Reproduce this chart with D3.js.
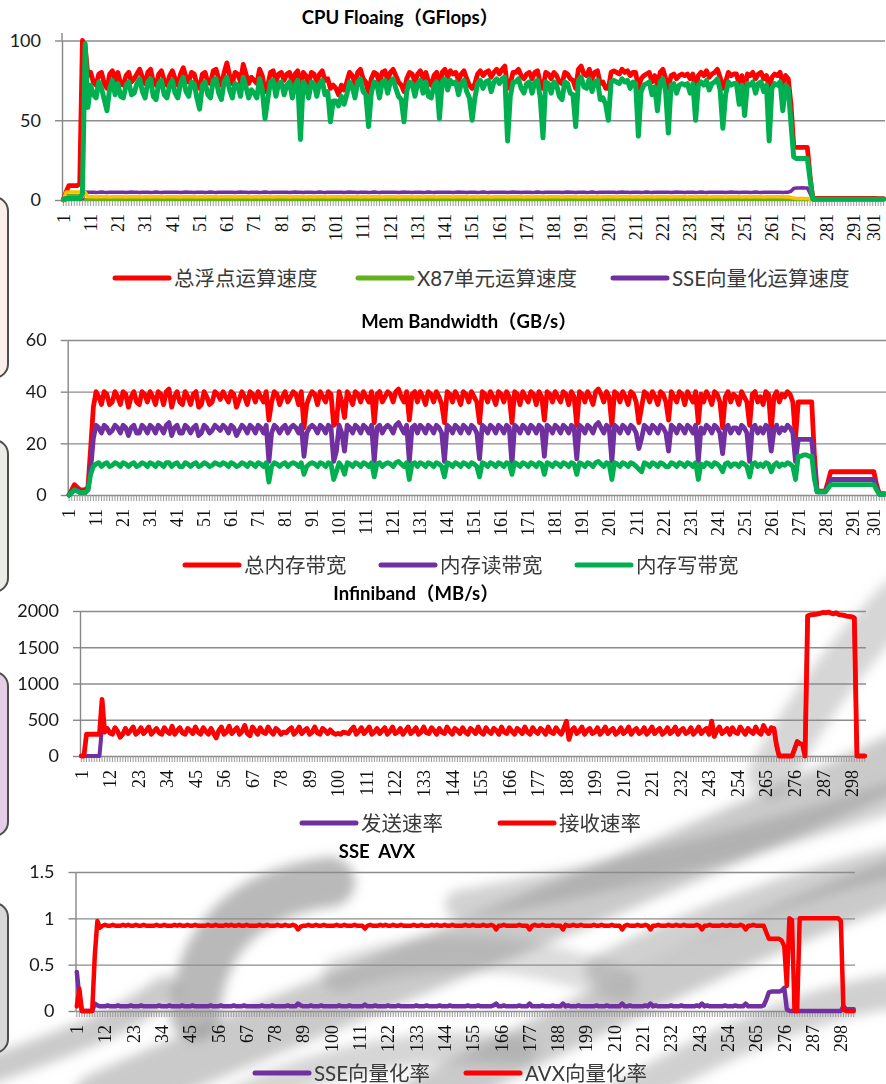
<!DOCTYPE html>
<html>
<head>
<meta charset="utf-8">
<script src="https://cdn.jsdelivr.net/npm/d3@7/dist/d3.min.js"></script>
<style>
  body { margin: 0; background: #fff; }
  svg { display: block; }
  .ylab text { font-family: Lato, "Noto Sans", sans-serif; font-size: 18px; fill: #1a1a1a; }
  .xlab text { font-family: "Liberation Serif", serif; font-size: 18px; fill: #111; }
  .title { font-family: Lato, "Noto Sans CJK SC", sans-serif; font-size: 18.5px; font-weight: bold; fill: #000; white-space: pre; }
  .legend { font-family: Lato, "Noto Sans CJK SC", sans-serif; font-size: 20.5px; fill: #3a3a3a; }
</style>
</head>
<body>
<div id="chart"></div>
<script>
// ---------- CPU Floaing (GFlops), 302 samples ----------
var cpuTotal = [0,5,9,9,9,9,10,100,96,78,
80,74,72,79,80,73,70,79,81,75,
80,73,72,78,80,74,76,79,82,77,
73,80,82,74,72,79,81,75,72,78,
81,76,72,79,83,77,74,80,79,73,
70,79,80,74,73,81,82,76,72,80,
86,78,73,80,79,74,85,79,73,77,
75,73,82,78,68,72,80,81,74,79,
80,75,79,80,73,79,81,70,80,78,
73,80,79,74,79,81,75,76,70,72,
70,66,72,69,74,80,78,73,80,82,
76,74,67,76,80,79,73,80,81,75,
80,82,78,74,72,68,76,80,79,74,
79,81,76,80,74,72,78,80,70,80,
82,77,81,79,80,75,79,81,76,72,
70,73,79,81,78,80,81,77,80,82,
79,82,84,70,73,80,80,82,78,76,
79,80,76,80,81,73,70,80,79,76,
80,78,74,73,80,79,76,75,70,82,
84,79,78,82,76,80,81,73,74,70,
70,80,81,80,79,82,80,81,78,80,
80,70,76,78,79,80,74,78,72,80,
82,76,70,78,79,76,78,79,78,79,
76,79,70,78,80,78,81,77,79,80,
82,77,70,74,80,78,79,79,72,78,
68,79,78,80,76,79,80,76,78,70,
77,79,78,80,73,78,76,60,34,33,
33,33,33,33,15,1,1,1,1,1,
1,1,1,1,1,1,1,1,1,1,
1,1,1,1,1,1,1,1,1,.8,
.8,.8];

var cpuAvx = [.5,1,1,1,1,1,1,4,98,58,
72,66,64,74,70,63,56,70,75,66,
73,65,64,72,74,66,67,73,76,68,
64,74,76,65,63,73,75,66,64,72,
75,67,64,73,77,68,65,74,73,64,
57,72,74,66,64,75,76,67,63,74,
77,69,64,73,72,65,77,71,64,69,
67,64,76,69,51,63,74,75,65,73,
74,66,72,74,64,72,75,38,74,71,
64,74,73,65,73,75,66,68,49,62,
62,59,65,60,66,74,71,64,74,76,
68,66,46,67,74,73,64,74,75,67,
74,76,70,65,63,49,68,74,73,65,
73,75,67,74,65,64,72,74,51,74,
76,69,75,73,74,66,73,75,68,64,
50,64,73,75,70,74,75,68,74,76,
73,76,77,37,65,74,74,76,70,67,
73,74,67,74,75,64,39,74,73,67,
74,72,65,63,74,73,67,66,46,75,
77,71,70,76,68,74,75,63,64,60,
50,74,75,74,73,76,74,75,70,74,
73,40,68,72,73,74,66,71,56,74,
76,68,42,72,73,67,72,73,72,73,
67,73,50,72,74,72,75,69,73,74,
76,69,45,66,74,72,73,73,60,72,
53,73,72,74,67,73,74,68,72,37,
70,73,72,74,56,72,70,48,27,26,
26,26,26,26,13,.5,.5,.5,.5,.5,
.5,.5,.5,.5,.5,.5,.5,.5,.5,.5,
.5,.5,.5,.5,.5,.5,.5,.5,.5,.5,
.5,.5];

var cpuSse = [0,.3,.5,.5,.5,.5,.5,1,5,4.8,
4.8,4.9,4.7,4.8,5,4.8,4.7,4.9,4.8,4.8,
4.9,4.8,4.8,4.7,4.9,5,4.8,4.8,4.7,4.9,
4.8,4.9,4.7,4.8,5,4.8,4.7,4.9,4.8,4.8,
4.9,4.8,4.8,4.7,4.9,5,4.8,4.8,4.7,4.9,
4.8,4.9,4.7,4.8,5,4.8,4.7,4.9,4.8,4.8,
4.9,4.8,4.8,4.7,4.9,5,4.8,4.8,4.7,4.9,
4.8,4.9,4.7,4.8,5,4.8,4.7,4.9,4.8,4.8,
4.9,4.8,4.8,4.7,4.9,5,4.8,4.8,4.7,4.9,
4.8,4.9,4.7,4.8,5,4.8,4.7,4.9,4.8,4.8,
4.9,4.8,4.8,4.7,4.9,5,4.8,4.8,4.7,4.9,
4.8,4.9,4.7,4.8,5,4.8,4.7,4.9,4.8,4.8,
4.9,4.8,4.8,4.7,4.9,5,4.8,4.8,4.7,4.9,
4.8,4.9,4.7,4.8,5,4.8,4.7,4.9,4.8,4.8,
4.9,4.8,4.8,4.7,4.9,5,4.8,4.8,4.7,4.9,
4.8,4.9,4.7,4.8,5,4.8,4.7,4.9,4.8,4.8,
4.9,4.8,4.8,4.7,4.9,5,4.8,4.8,4.7,4.9,
4.8,4.9,4.7,4.8,5,4.8,4.7,4.9,4.8,4.8,
4.9,4.8,4.8,4.7,4.9,5,4.8,4.8,4.7,4.9,
4.8,4.9,4.7,4.8,5,4.8,4.7,4.9,4.8,4.8,
4.9,4.8,4.8,4.7,4.9,5,4.8,4.8,4.7,4.9,
4.8,4.9,4.7,4.8,5,4.8,4.7,4.9,4.8,4.8,
4.9,4.8,4.8,4.7,4.9,5,4.8,4.8,4.7,4.9,
4.8,4.9,4.7,4.8,5,4.8,4.7,4.9,4.8,4.8,
4.9,4.8,4.8,4.7,4.9,5,4.8,4.8,4.7,4.9,
4.8,4.9,4.7,4.8,5,4.8,4.7,4.9,4.8,4.8,
4.8,4.9,4.8,4.8,4.7,4.8,4.9,5.5,7.2,7.6,
7.6,7.7,7.6,7.6,4,.3,.3,.3,.3,.3,
.3,.3,.3,.3,.3,.3,.3,.3,.3,.3,
.3,.3,.3,.3,.3,.3,.3,.3,.3,.3,
.3,.3];

var cpuOther = [0,5,5,5,5,5,5,2,5,2,
2,2.1,1.9,2,2,2.1,2,1.9,2,2,
2.1,2,2,1.9,2,2,2.1,2,2,1.9,
2,2.1,1.9,2,2,2.1,2,1.9,2,2,
2.1,2,2,1.9,2,2,2.1,2,2,1.9,
2,2.1,1.9,2,2,2.1,2,1.9,2,2,
2.1,2,2,1.9,2,2,2.1,2,2,1.9,
2,2.1,1.9,2,2,2.1,2,1.9,2,2,
2.1,2,2,1.9,2,2,2.1,2,2,1.9,
2,2.1,1.9,2,2,2.1,2,1.9,2,2,
2.1,2,2,1.9,2,2,2.1,2,2,1.9,
2,2.1,1.9,2,2,2.1,2,1.9,2,2,
2.1,2,2,1.9,2,2,2.1,2,2,1.9,
2,2.1,1.9,2,2,2.1,2,1.9,2,2,
2.1,2,2,1.9,2,2,2.1,2,2,1.9,
2,2.1,1.9,2,2,2.1,2,1.9,2,2,
2.1,2,2,1.9,2,2,2.1,2,2,1.9,
2,2.1,1.9,2,2,2.1,2,1.9,2,2,
2.1,2,2,1.9,2,2,2.1,2,2,1.9,
2,2.1,1.9,2,2,2.1,2,1.9,2,2,
2.1,2,2,1.9,2,2,2.1,2,2,1.9,
2,2.1,1.9,2,2,2.1,2,1.9,2,2,
2.1,2,2,1.9,2,2,2.1,2,2,1.9,
2,2.1,1.9,2,2,2.1,2,1.9,2,2,
2.1,2,2,1.9,2,2,2.1,2,2,1.9,
2,2.1,1.9,2,2,2.1,2,1.9,2,2,
2,2,2.1,2,2,1.9,2,1.6,1.2,1,
1,1,1,1,.5,.3,.3,.3,.3,.3,
.3,.3,.3,.3,.3,.3,.3,.3,.3,.3,
.3,.3,.3,.3,.3,.3,.3,.3,.3,.3,
.3,.3];

var cpuX87 = [0,2.5,3,3,3,3,2.5,1,.5,.3,
.3,.3,.4,.3,.3,.3,.4,.3,.3,.3,
.3,.4,.3,.3,.3,.4,.3,.3,.3,.4,
.3,.3,.4,.3,.3,.3,.4,.3,.3,.3,
.3,.4,.3,.3,.3,.4,.3,.3,.3,.4,
.3,.3,.4,.3,.3,.3,.4,.3,.3,.3,
.3,.4,.3,.3,.3,.4,.3,.3,.3,.4,
.3,.3,.4,.3,.3,.3,.4,.3,.3,.3,
.3,.4,.3,.3,.3,.4,.3,.3,.3,.4,
.3,.3,.4,.3,.3,.3,.4,.3,.3,.3,
.3,.4,.3,.3,.3,.4,.3,.3,.3,.4,
.3,.3,.4,.3,.3,.3,.4,.3,.3,.3,
.3,.4,.3,.3,.3,.4,.3,.3,.3,.4,
.3,.3,.4,.3,.3,.3,.4,.3,.3,.3,
.3,.4,.3,.3,.3,.4,.3,.3,.3,.4,
.3,.3,.4,.3,.3,.3,.4,.3,.3,.3,
.3,.4,.3,.3,.3,.4,.3,.3,.3,.4,
.3,.3,.4,.3,.3,.3,.4,.3,.3,.3,
.3,.4,.3,.3,.3,.4,.3,.3,.3,.4,
.3,.3,.4,.3,.3,.3,.4,.3,.3,.3,
.3,.4,.3,.3,.3,.4,.3,.3,.3,.4,
.3,.3,.4,.3,.3,.3,.4,.3,.3,.3,
.3,.4,.3,.3,.3,.4,.3,.3,.3,.4,
.3,.3,.4,.3,.3,.3,.4,.3,.3,.3,
.3,.4,.3,.3,.3,.4,.3,.3,.3,.4,
.3,.3,.4,.3,.3,.3,.4,.3,.3,.3,
.3,.4,.3,.3,.3,.4,.3,.3,.3,.4,
.3,.3,.3,.3,.3,.3,.3,.3,.3,.3,
.3,.3,.3,.3,.3,.3,.3,.3,.3,.3,
.3,.3,.3,.3,.3,.3,.3,.3,.3,.3,
.3,.3];

var cpuYTicks = [0, 50, 100];
var cpuXTicks = [1,11,21,31,41,51,61,71,81,91,101,111,121,131,141,151,161,171,181,191,201,211,221,231,241,251,261,271,281,291,301];

// ---------- Mem Bandwidth (GB/s), 303 samples ----------
var memTotal = [0,2,4,3,2,2,2,3,18,34,
40,38,35,40,39,35,36,40,38,35,
40,39,34,38,40,36,35,40,39,36,
40,38,35,40,39,35,40,41,34,38,
40,36,35,40,38,35,39,40,34,35,
40,38,35,36,40,39,37,40,38,36,
40,39,34,37,40,38,35,40,39,36,
40,38,36,40,29,36,40,39,35,38,
40,36,38,40,39,35,40,26,35,38,
40,39,35,40,38,36,40,39,27,28,
40,36,30,40,38,35,40,39,36,40,
38,36,40,28,39,40,36,38,40,39,
36,40,41,38,36,40,29,39,40,36,
40,38,35,40,39,36,40,38,35,28,
40,39,36,40,38,35,40,39,36,40,
38,36,28,40,39,36,40,38,35,40,
39,36,40,38,28,40,39,35,40,38,
36,40,39,35,40,38,29,40,39,36,
40,38,36,40,39,35,40,38,27,40,
39,36,40,38,35,40,41,39,36,40,
38,27,40,39,36,40,38,35,40,39,
36,28,34,40,39,36,40,38,35,40,
39,36,29,40,38,36,40,39,35,40,
38,36,40,28,39,36,40,38,35,40,
39,36,26,38,40,36,39,38,35,40,
38,36,27,39,40,36,38,35,40,39,
25,38,40,36,39,38,40,39,36,22,
36,36,36,36,36,36,15,1.5,1.5,1.5,
1.5,5,9,9,9,9,9,9,9,9,
9,9,9,9,9,9,9,9,9,4,
.5,.5,.5];

var memRead = [0,1,2,2,1,1,1,2,10,22,
27,26,24,27,26,24,25,27,26,24,
27,26,23,26,27,24,24,27,26,24,
27,26,24,27,26,24,27,28,23,26,
27,24,24,27,26,24,26,27,23,24,
27,26,24,25,27,26,25,27,26,24,
27,26,23,25,27,26,24,27,26,24,
27,26,24,27,13,24,27,26,24,26,
27,24,26,27,26,24,27,15,24,26,
27,26,24,27,26,24,27,26,13,17,
27,24,17,27,26,24,27,26,24,27,
26,24,27,13,26,27,24,26,27,26,
24,27,28,26,24,27,13,26,27,24,
27,26,24,27,26,24,27,26,24,13,
27,26,24,27,26,24,27,26,24,27,
26,24,14,27,26,24,27,26,24,27,
26,24,27,26,12,27,26,24,27,26,
24,27,26,24,27,26,15,27,26,24,
27,26,24,27,26,24,27,26,14,27,
26,24,27,26,24,27,28,26,24,27,
26,13,27,26,24,27,26,24,27,26,
24,18,22,27,26,24,27,26,24,27,
26,24,17,27,26,24,27,26,24,27,
26,24,27,13,26,24,27,26,24,27,
26,24,16,26,27,24,26,26,24,27,
26,24,13,26,27,24,26,24,27,26,
17,25,27,24,26,25,27,26,24,13,
21.5,21.5,21.5,21.5,21.5,21.5,10,1.2,1.2,1.2,
1.2,3,6,6,6,6,6,6,6,6,
6,6,6,6,6,6,6,6,6,2.5,
.3,.3,.3];

var memWrite = [0,1,2,1.5,1,1,1,2,8,11,
12,12.5,11,12,12.5,11,11.5,12.5,12,11,
12.5,12,11,12,12.5,11,11.5,12.5,12,11,
12.5,12,11,12.5,12,11,12.5,12.5,11,12,
12.5,11,11,12.5,12,11,12,12.5,11,11.5,
12.5,12,11,11.5,12.5,12,11.5,12.5,12,11,
12.5,12,11,11.5,12.5,12,11,12.5,12,11,
12.5,12,11,12.5,5,11,12.5,12,11,12,
12.5,11,12,12.5,12,11,12.5,8,11,12,
12.5,12,11,12.5,12,11,12.5,12,6,9,
12.5,11,8,12.5,12,11,12.5,12,11,12.5,
12,11,12.5,7,12,12.5,11,12,12.5,12,
11,12.5,13,12,11,12.5,6,12,12.5,11,
12.5,12,11,12.5,12,11,12.5,12,11,7,
12.5,12,11,12.5,12,11,12.5,12,11,12.5,
12,11,7,12.5,12,11,12.5,12,11,12.5,
12,11,12.5,12,8,12.5,12,11,12.5,12,
11,12.5,12,11,12.5,12,8,12.5,12,11,
12.5,12,11,12.5,12,11,12.5,12,8,12.5,
12,11,12.5,12,11,12.5,13,12,11,12.5,
12,6,12.5,12,11,12.5,12,11,12.5,12,
11,10,9,12.5,12,11,12.5,12,11,12.5,
12,11,11,12.5,12,11,12.5,12,11,12.5,
12,11,12.5,6,12,11,12.5,12,11,12.5,
12,11,9,12,12.5,11,12,12,11,12.5,
12,11,7,12,12.5,11,12,11,12.5,12,
9,11.5,12.5,11,12,11.5,12.5,12,11,6,
15,15,15.5,15.5,15,15,6,1.2,1.2,1.2,
1.2,2.5,4,4,4,4,4,4,4,4,
4,4,4,4,4,4,4,4,4,2,
.3,.3,.3];

var memYTicks = [0, 20, 40, 60];
var memXTicks = cpuXTicks;

// ---------- Infiniband (MB/s), 303 samples ----------
var ibRecv = [0,0,300,300,300,300,300,300,780,330,
380,320,300,390,340,260,300,380,310,350,
400,300,330,390,310,350,400,300,340,380,
320,300,390,340,310,410,300,350,390,320,
300,380,350,310,400,330,300,390,340,300,
380,310,250,350,400,300,330,410,310,350,
390,300,340,420,310,280,400,350,300,390,
330,310,400,340,300,380,350,300,330,320,
360,390,300,340,400,310,350,380,300,330,
400,320,300,380,350,310,360,320,300,310,
300,330,320,310,360,400,300,340,390,310,
350,400,300,330,380,310,350,390,300,340,
400,310,330,380,300,350,400,310,340,390,
300,330,400,320,310,390,350,300,380,330,
310,400,340,300,380,350,310,390,330,300,
380,350,310,400,330,300,390,340,310,380,
350,300,400,330,310,390,340,300,380,350,
310,400,330,300,390,340,310,380,350,300,
400,330,310,390,340,300,380,480,230,350,
390,310,340,400,300,350,380,310,330,390,
300,340,400,310,350,380,300,330,390,310,
340,400,300,350,380,310,330,390,300,340,
400,310,350,380,300,330,390,310,340,400,
300,350,380,310,330,390,300,340,400,310,
350,380,300,480,270,350,400,310,340,380,
300,390,330,310,400,350,300,380,340,310,
400,330,300,420,350,310,390,380,150,0,
0,0,0,0,0,100,200,170,160,0,
1930,1945,1950,1955,1960,1970,1980,1975,1985,1970,
1960,1975,1950,1945,1940,1930,1925,1920,1905,0,
0,0,0];

var ibSend = [0,0,0,0,0,0,0,0,400,330,
380,320,300,390,340,260,300,380,310,350,
400,300,330,390,310,350,400,300,340,380,
320,300,390,340,310,410,300,350,390,320,
300,380,350,310,400,330,300,390,340,300,
380,310,250,350,400,300,330,410,310,350,
390,300,340,420,310,280,400,350,300,390,
330,310,400,340,300,380,350,300,330,320,
360,390,300,340,400,310,350,380,300,330,
400,320,300,380,350,310,360,320,300,310,
300,330,320,310,360,400,300,340,390,310,
350,400,300,330,380,310,350,390,300,340,
400,310,330,380,300,350,400,310,340,390,
300,330,400,320,310,390,350,300,380,330,
310,400,340,300,380,350,310,390,330,300,
380,350,310,400,330,300,390,340,310,380,
350,300,400,330,310,390,340,300,380,350,
310,400,330,300,390,340,310,380,350,300,
400,330,310,390,340,300,380,480,230,350,
390,310,340,400,300,350,380,310,330,390,
300,340,400,310,350,380,300,330,390,310,
340,400,300,350,380,310,330,390,300,340,
400,310,350,380,300,330,390,310,340,400,
300,350,380,310,330,390,300,340,400,310,
350,380,300,480,270,350,400,310,340,380,
300,390,330,310,400,350,300,380,340,310,
400,330,300,420,350,310,390,380,150,0,
0,0,0,0,0,100,200,170,160,0,
1930,1945,1950,1955,1960,1970,1980,1975,1985,1970,
1960,1975,1950,1945,1940,1930,1925,1920,1905,0,
0,0,0];

var ibYTicks = [0, 500, 1000, 1500, 2000];
var ibXTicks = [1,12,23,34,45,56,67,78,89,100,111,122,133,144,155,166,177,188,199,210,221,232,243,254,265,276,287,298];

// ---------- SSE AVX ratio, 303 samples ----------
var avxRate = [.05,.24,0,0,0,0,0,.6,.97,.9,
.92,.93,.92,.92,.93,.92,.92,.92,.93,.92,
.93,.92,.92,.93,.92,.92,.93,.92,.92,.92,
.92,.93,.92,.92,.93,.92,.92,.92,.93,.92,
.93,.92,.92,.93,.92,.92,.93,.92,.92,.92,
.92,.93,.92,.92,.93,.92,.92,.92,.93,.92,
.93,.92,.92,.93,.92,.92,.93,.92,.92,.92,
.92,.93,.92,.92,.93,.92,.92,.92,.93,.92,
.92,.93,.92,.92,.93,.92,.88,.91,.92,.92,
.93,.92,.92,.93,.92,.92,.93,.92,.92,.92,
.92,.93,.92,.92,.93,.92,.92,.92,.93,.92,
.92,.92,.89,.92,.93,.92,.92,.92,.93,.92,
.93,.92,.92,.93,.92,.92,.93,.92,.92,.92,
.92,.93,.92,.92,.93,.92,.92,.92,.93,.92,
.93,.92,.92,.93,.92,.92,.93,.92,.92,.92,
.92,.93,.92,.92,.93,.92,.92,.92,.93,.92,
.92,.93,.92,.88,.92,.92,.93,.92,.92,.92,
.92,.92,.93,.92,.92,.92,.88,.92,.93,.92,
.92,.93,.92,.92,.92,.93,.92,.92,.92,.88,
.93,.92,.92,.93,.92,.92,.93,.92,.92,.92,
.92,.93,.92,.92,.93,.92,.92,.92,.93,.92,
.92,.92,.88,.92,.93,.92,.92,.92,.93,.92,
.92,.93,.92,.88,.92,.92,.93,.92,.92,.92,
.93,.92,.92,.93,.92,.92,.93,.92,.92,.92,
.92,.93,.92,.88,.92,.92,.93,.92,.92,.92,
.92,.93,.92,.92,.93,.92,.92,.92,.93,.92,
.88,.92,.92,.93,.92,.92,.92,.92,.85,.78,
.78,.78,.78,.78,.76,.7,.27,1,.98,0,
0,1,1,1,1,1,1,1,1,1,
1,1,1,1,1,1,1,.97,.02,0,
0,0,0];

var sseRate = [.42,.15,0,0,0,0,0,.08,.06,.05,
.05,.05,.06,.05,.05,.05,.06,.05,.05,.05,
.05,.06,.05,.05,.05,.06,.05,.05,.05,.05,
.05,.05,.06,.05,.05,.05,.06,.05,.05,.05,
.05,.06,.05,.05,.05,.06,.05,.05,.05,.05,
.05,.05,.06,.05,.05,.05,.06,.05,.05,.05,
.05,.06,.05,.05,.05,.06,.05,.05,.05,.05,
.05,.05,.06,.05,.05,.05,.06,.05,.05,.05,
.05,.05,.06,.05,.05,.05,.08,.06,.05,.05,
.05,.06,.05,.05,.05,.06,.05,.05,.05,.05,
.05,.05,.06,.05,.05,.05,.06,.05,.05,.05,
.05,.05,.07,.05,.05,.05,.06,.05,.05,.05,
.05,.06,.05,.05,.05,.06,.05,.05,.05,.05,
.05,.05,.06,.05,.05,.05,.06,.05,.05,.05,
.05,.06,.05,.05,.05,.06,.05,.05,.05,.05,
.05,.05,.06,.05,.05,.05,.06,.05,.05,.05,
.05,.05,.06,.08,.05,.05,.06,.05,.05,.05,
.05,.05,.06,.05,.05,.05,.08,.05,.05,.05,
.05,.06,.05,.05,.05,.06,.05,.05,.05,.08,
.05,.06,.05,.05,.05,.06,.05,.05,.05,.05,
.05,.05,.06,.05,.05,.05,.06,.05,.05,.05,
.05,.05,.08,.05,.05,.06,.05,.05,.05,.05,
.05,.06,.05,.08,.05,.06,.05,.05,.05,.05,
.05,.06,.05,.05,.05,.06,.05,.05,.05,.05,
.05,.06,.05,.08,.05,.06,.05,.05,.05,.05,
.05,.05,.06,.05,.05,.05,.06,.05,.05,.05,
.08,.05,.05,.05,.05,.05,.05,.06,.12,.2,
.21,.21,.21,.21,.22,.25,.02,0,0,0,
0,0,0,0,0,0,0,0,0,0,
0,0,0,0,0,0,0,0,.05,.02,
.02,.02,.02];

var vecYTicks = [0, 0.5, 1, 1.5];
var vecXTicks = ibXTicks;

// ---------- colours ----------
var RED = "#ff0000", GREEN = "#00b050", PURPLE = "#7030a0", YELLOW = "#ffc000", LIME = "#62b21c";

var W = 886, H = 1084;

var svg = d3.select("#chart").append("svg")
  .attr("width", W)
  .attr("height", H);

svg.append("rect").attr("width", W).attr("height", H).attr("fill", "#fff");

//Background: blurred brush-stroke watermark (slide artwork)
var defs = svg.append("defs");
defs.append("filter").attr("id", "soft")
  .attr("x", "-30%").attr("y", "-30%").attr("width", "160%").attr("height", "160%")
  .append("feGaussianBlur").attr("stdDeviation", 6);

var strokes = [
  {d: "M100,1100 C300,1010 600,900 900,760", w: 55, o: 0.45},
  {d: "M420,1100 C600,1010 760,930 900,880", w: 45, o: 0.45},
  {d: "M195,1015 C200,935 250,892 330,882", w: 50, o: 0.6},
  {d: "M340,975 C420,945 520,945 620,985", w: 35, o: 0.3},
  {d: "M460,905 C600,880 730,850 900,795", w: 30, o: 0.38},
  {d: "M770,775 C810,705 850,650 900,600", w: 45, o: 0.35},
  {d: "M-10,1070 C60,1045 120,1025 165,990", w: 28, o: 0.45},
  {d: "M620,1100 C720,1040 820,1000 900,990", w: 35, o: 0.4},
  {d: "M600,970 C690,925 790,885 900,860", w: 30, o: 0.4},
  {d: "M240,1100 C320,1060 420,1040 520,1050", w: 30, o: 0.35}
];
svg.append("g").attr("filter", "url(#soft)")
  .selectAll("path").data(strokes).enter().append("path")
  .attr("d", function(d) { return d.d; })
  .attr("fill", "none")
  .attr("stroke", "#8a8a8a")
  .attr("stroke-width", function(d) { return d.w; })
  .attr("stroke-linecap", "round")
  .attr("opacity", function(d) { return d.o; });

//Background: rounded tabs peeking in at the left edge
var tabs = [
  {y: 197, h: 181, fill: "#fdeeee"},
  {y: 440, h: 152, fill: "#ececE6"},
  {y: 672, h: 164, fill: "#e6cfe6"},
  {y: 903, h: 150, fill: "#d9d9d9"}
];
svg.selectAll("rect.tab").data(tabs).enter().append("rect")
  .attr("class", "tab")
  .attr("x", -30).attr("width", 38)
  .attr("y", function(d) { return d.y; })
  .attr("height", function(d) { return d.h; })
  .attr("rx", 14)
  .attr("fill", function(d) { return d.fill; })
  .attr("stroke", "#4d4d4d")
  .attr("stroke-width", 2);

// ---------- panels ----------
var panels = [
  {
    title: "CPU Floaing（GFlops）", titleX: 400, titleY: 24,
    n: 302, left: 62, right: 885, y0: 200, yTop: 40.5, axisTop: 33,
    yDomain: [0, 100], yTicks: cpuYTicks, xTicks: cpuXTicks,
    series: [
      {v: cpuTotal, c: RED, w: 4.8},
      {v: cpuX87, c: LIME, w: 3},
      {v: cpuSse, c: PURPLE, w: 3.5},
      {v: cpuOther, c: YELLOW, w: 3.5},
      {v: cpuAvx, c: GREEN, w: 5}
    ],
    legendY: 278,
    legend: [
      {t: "总浮点运算速度", c: RED, x: 115},
      {t: "X87单元运算速度", c: LIME, x: 358},
      {t: "SSE向量化运算速度", c: PURPLE, x: 613}
    ]
  },
  {
    title: "Mem Bandwidth（GB/s）", titleX: 469, titleY: 328,
    n: 303, left: 67.7, right: 886, y0: 495, yTop: 340, axisTop: 340,
    yDomain: [0, 60], yTicks: memYTicks, xTicks: memXTicks,
    series: [
      {v: memTotal, c: RED, w: 4.8},
      {v: memRead, c: PURPLE, w: 4.8},
      {v: memWrite, c: GREEN, w: 4.8}
    ],
    legendY: 565,
    legend: [
      {t: "总内存带宽", c: RED, x: 185},
      {t: "内存读带宽", c: PURPLE, x: 381},
      {t: "内存写带宽", c: GREEN, x: 577}
    ]
  },
  {
    title: "Infiniband（MB/s）", titleX: 416, titleY: 600,
    n: 303, left: 80, right: 866, y0: 756, yTop: 611, axisTop: 611,
    yDomain: [0, 2000], yTicks: ibYTicks, xTicks: ibXTicks,
    series: [
      {v: ibSend, c: PURPLE, w: 4},
      {v: ibRecv, c: RED, w: 4.8}
    ],
    legendY: 823,
    legend: [
      {t: "发送速率", c: PURPLE, x: 302},
      {t: "接收速率", c: RED, x: 500}
    ]
  },
  {
    title: "SSE  AVX", titleX: 377, titleY: 858,
    n: 303, left: 75.5, right: 855, y0: 1011, yTop: 872, axisTop: 872,
    yDomain: [0, 1.5], yTicks: vecYTicks, xTicks: vecXTicks,
    series: [
      {v: sseRate, c: PURPLE, w: 4.5},
      {v: avxRate, c: RED, w: 4.5}
    ],
    legendY: 1073,
    legend: [
      {t: "SSE向量化率", c: PURPLE, x: 255},
      {t: "AVX向量化率", c: RED, x: 466}
    ]
  }
];

panels.forEach(function(p) {
  var cats = d3.range(1, p.n + 1);
  var x = d3.scaleBand().domain(cats).range([p.left, p.right]);
  var y = d3.scaleLinear().domain(p.yDomain).range([p.y0, p.yTop]);
  var half = x.bandwidth() / 2;
  var g = svg.append("g");

  //Gridlines
  g.append("g")
    .attr("transform", "translate(" + p.left + ",0)")
    .call(d3.axisLeft(y).tickValues(p.yTicks.slice(1)).tickSize(-(p.right - p.left)).tickFormat(""))
    .call(function(s) { s.select(".domain").remove(); })
    .selectAll("line").attr("stroke", "#8c8c8c").attr("stroke-width", 1.4);

  //Category axis: one tick per sample, then sparse rotated labels
  g.append("g")
    .attr("transform", "translate(0," + p.y0 + ")")
    .call(d3.axisBottom(x).tickValues(cats).tickSize(6).tickSizeOuter(0).tickFormat(""))
    .call(function(s) {
      s.select(".domain").attr("stroke", "#868686").attr("stroke-width", 1.4);
      s.selectAll("line").attr("stroke", "#9a9a9a").attr("stroke-width", 1);
    });

  g.append("g")
    .attr("class", "xlab")
    .attr("transform", "translate(0," + p.y0 + ")")
    .call(d3.axisBottom(x).tickValues(p.xTicks).tickSize(0).tickFormat(function(d) { return d; }))
    .call(function(s) { s.select(".domain").remove(); })
    .selectAll("text")
    .attr("transform", function(d) {
      // keep the last label inside the picture
      var cx = x(d) + half;
      var shift = Math.min(0, W - 1 - (cx + 11));
      return "translate(" + shift + ",0) rotate(-90)";
    })
    .attr("text-anchor", "end")
    .attr("x", -14)
    .attr("y", 0)
    .attr("dy", "0.35em");

  //Value axis
  g.append("g")
    .attr("class", "ylab")
    .attr("transform", "translate(" + p.left + ",0)")
    .call(d3.axisLeft(y).tickValues(p.yTicks).tickSize(7).tickSizeOuter(0).tickPadding(14)
      .tickFormat(function(d) { return String(d); }))
    .call(function(s) {
      s.select(".domain").attr("stroke", "#868686").attr("stroke-width", 1.4);
      s.selectAll("line").attr("stroke", "#868686").attr("stroke-width", 1.4);
    });

  if (p.axisTop < p.yTop) {
    g.append("line")
      .attr("x1", p.left).attr("x2", p.left)
      .attr("y1", p.axisTop).attr("y2", p.yTop)
      .attr("stroke", "#868686").attr("stroke-width", 1.4);
  }

  //Series lines
  var line = d3.line()
    .x(function(d, i) { return x(cats[i]) + half; })
    .y(function(d) { return y(d); });

  g.selectAll("path.series").data(p.series).enter().append("path")
    .attr("class", "series")
    .attr("d", function(s) { return line(s.v.slice(0, p.n)); })
    .attr("fill", "none")
    .attr("stroke", function(s) { return s.c; })
    .attr("stroke-width", function(s) { return s.w; })
    .attr("stroke-linejoin", "round")
    .attr("stroke-linecap", "round");

  //Title
  g.append("text")
    .attr("class", "title")
    .attr("x", p.titleX).attr("y", p.titleY)
    .attr("text-anchor", "middle")
    .text(p.title);

  //Legend
  var lg = g.selectAll("g.leg").data(p.legend).enter().append("g").attr("class", "leg");
  lg.append("line")
    .attr("x1", function(d) { return d.x; })
    .attr("x2", function(d) { return d.x + 54; })
    .attr("y1", p.legendY).attr("y2", p.legendY)
    .attr("stroke", function(d) { return d.c; })
    .attr("stroke-width", 5)
    .attr("stroke-linecap", "round");
  lg.append("text")
    .attr("class", "legend")
    .attr("x", function(d) { return d.x + 59; })
    .attr("y", p.legendY)
    .attr("dominant-baseline", "central")
    .text(function(d) { return d.t; });
});
</script>
</body>
</html>
